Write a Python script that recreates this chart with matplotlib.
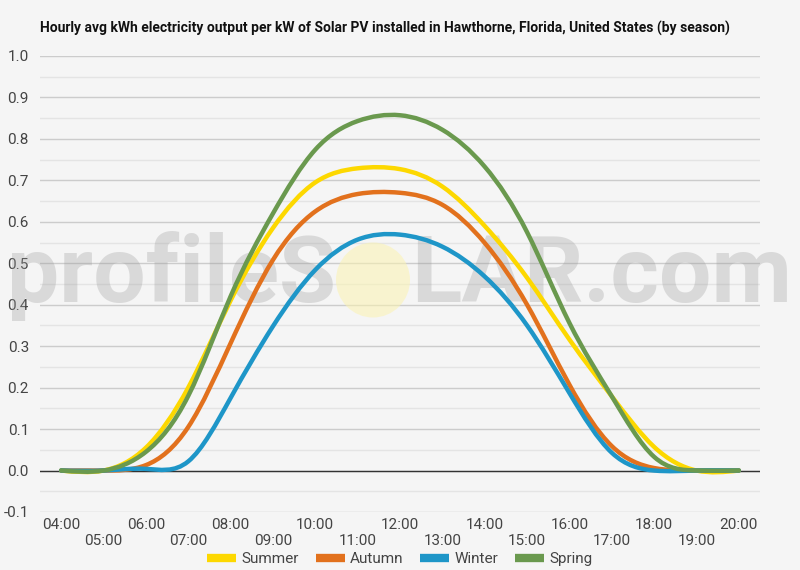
import matplotlib
matplotlib.use("Agg")
import numpy as np
import matplotlib.pyplot as plt
from matplotlib.path import Path
from matplotlib.patches import PathPatch, Ellipse
from matplotlib.lines import Line2D
from matplotlib.ticker import MultipleLocator, FixedLocator

# hourly values
hours = ["04:00", "05:00", "06:00", "07:00", "08:00", "09:00", "10:00", "11:00", "12:00",
         "13:00", "14:00", "15:00", "16:00", "17:00", "18:00", "19:00", "20:00"]
summer = [0, 0, 0.055, 0.20, 0.41, 0.585, 0.695, 0.729, 0.727, 0.685, 0.59, 0.465, 0.316, 0.179, 0.057, 0, 0]
autumn = [0, 0, 0.013, 0.105, 0.307, 0.508, 0.625, 0.667, 0.67, 0.641, 0.549, 0.40, 0.207, 0.059, 0.006, 0, 0]
winter = [0, 0, 0.004, 0.022, 0.175, 0.348, 0.484, 0.557, 0.569, 0.54, 0.468, 0.35, 0.187, 0.043, 0, 0, 0]
spring = [0, 0, 0.045, 0.18, 0.42, 0.62, 0.774, 0.843, 0.857, 0.822, 0.733, 0.575, 0.356, 0.179, 0.033, 0, 0]

series = [("Summer", summer, "#fdd800"), ("Autumn", autumn, "#e2711d"),
          ("Winter", winter, "#1e96c8"), ("Spring", spring, "#6a994e")]

plt.rcParams["font.family"] = ["Roboto", "DejaVu Sans"]

bg = "#f5f5f5"
fig = plt.figure(figsize=(8, 5.7), dpi=100, facecolor=bg)
ax = fig.add_axes([0.05, 0.1018, 0.90, 0.80])
ax.set_facecolor(bg)


def smooth_path(xs, ys):
    # natural cubic spline through the points, drawn as bezier segments
    y = np.asarray(ys, dtype=float)
    n = len(y)
    A = np.zeros((n, n))
    b = np.zeros(n)
    A[0, 0], A[0, 1], b[0] = 2, 1, 3 * (y[1] - y[0])
    A[-1, -2], A[-1, -1], b[-1] = 1, 2, 3 * (y[-1] - y[-2])
    for i in range(1, n - 1):
        A[i, i - 1], A[i, i], A[i, i + 1] = 1, 4, 1
        b[i] = 3 * (y[i + 1] - y[i - 1])
    m = np.linalg.solve(A, b)
    verts = [(xs[0], y[0])]
    codes = [Path.MOVETO]
    for i in range(n - 1):
        verts += [(xs[i] + 1 / 3, y[i] + m[i] / 3),
                  (xs[i + 1] - 1 / 3, y[i + 1] - m[i + 1] / 3),
                  (xs[i + 1], y[i + 1])]
        codes += [Path.CURVE4] * 3
    return Path(verts, codes)


xs = list(range(len(hours)))
for name, vals, col in series:
    patch = PathPatch(smooth_path(xs, vals), facecolor="none", edgecolor=col, lw=3.2,
                      zorder=3, capstyle="round", joinstyle="round")
    ax.add_patch(patch)

ax.set_xlim(-0.5, len(hours) - 0.5)
ax.set_ylim(-0.1, 1.0)

ax.yaxis.set_major_locator(MultipleLocator(0.1))
ax.yaxis.set_minor_locator(MultipleLocator(0.05))
ax.grid(which="major", axis="y", color="#cccccc", lw=1.0)
ax.grid(which="minor", axis="y", color="#e4e4e4", lw=1.0)
ax.axhline(0, color="#333333", lw=1.0, zorder=2.6)
ax.yaxis.set_major_formatter(plt.FuncFormatter(lambda v, p: f"{v:.1f}"))
ax.tick_params(axis="y", which="both", length=0, pad=8, labelsize=11, labelcolor="#444444")

ax.xaxis.set_major_locator(FixedLocator(xs[::2]))
ax.xaxis.set_minor_locator(FixedLocator(xs[1::2]))
ax.set_xticklabels(hours[::2])
ax.set_xticklabels(hours[1::2], minor=True)
ax.tick_params(axis="x", which="major", length=0, pad=4, labelsize=11, labelcolor="#444444")
ax.tick_params(axis="x", which="minor", length=0, pad=16, labelsize=11, labelcolor="#444444")

for s in ax.spines.values():
    s.set_visible(False)

# watermark
ax.text(336 / 800, 1 - 302 / 570, "profileS", transform=fig.transFigure, ha="right",
        va="baseline", fontsize=67, fontweight="bold", color="#9a9a9a", alpha=0.3,
        zorder=2, clip_on=False)
ax.text(411 / 800, 1 - 302 / 570, "LAR.com", transform=fig.transFigure, ha="left",
        va="baseline", fontsize=67, fontweight="bold", color="#9a9a9a", alpha=0.3,
        zorder=2, clip_on=False)
ax.add_patch(Ellipse((373 / 800, 1 - 280 / 570), 74 / 800, 75 / 570, transform=fig.transFigure,
                     facecolor="#fbf3b0", edgecolor="none", alpha=0.55, zorder=2, clip_on=False))

fig.text(40 / 800, 1 - 33 / 570,
         "Hourly avg kWh electricity output per kW of Solar PV installed in Hawthorne, Florida, United States (by season)",
         fontsize=10, fontweight="bold", color="#111111", va="baseline", ha="left")

handles = [Line2D([], [], color=c, lw=6, solid_capstyle="butt") for _, _, c in series]
fig.legend(handles, [n for n, _, _ in series], loc="center", bbox_to_anchor=(0.5, 1 - 559 / 570),
           ncol=4, frameon=False, fontsize=11, handlelength=1.9, columnspacing=1.1,
           handletextpad=0.35, labelcolor="#444444")

fig.savefig("out.png", dpi=100, facecolor=bg)
